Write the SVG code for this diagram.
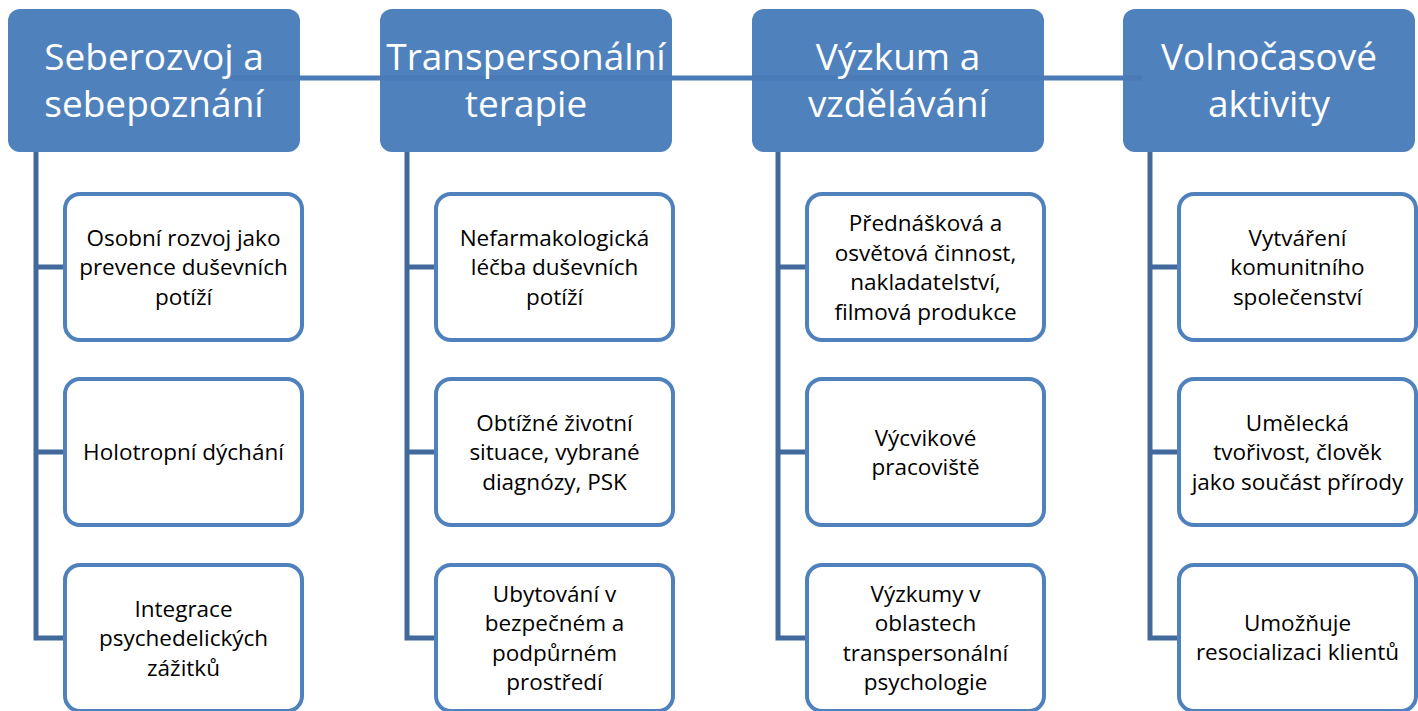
<svg xmlns="http://www.w3.org/2000/svg" width="1418" height="711" viewBox="0 0 1418 711">
<style>
.hdr{fill:#4f81bd;}
.ht{fill:#ffffff;font-family:"Open Sans","Noto Sans","Liberation Sans",sans-serif;font-size:37px;text-anchor:middle;}
.child{fill:#ffffff;stroke:#4f81bd;stroke-width:4;}
.ct{fill:#000000;font-family:"Open Sans","Noto Sans","Liberation Sans",sans-serif;font-size:22.5px;text-anchor:middle;}
.tree{fill:none;stroke:#41699c;stroke-width:5;}
.top{fill:none;stroke:#4a7bb7;stroke-width:5;}
</style>
<rect width="1418" height="711" fill="#ffffff"/>
<g id="headers">
<g id="h1"><rect class="hdr" x="8" y="9" width="292" height="143" rx="12"/></g>
<g id="h2"><rect class="hdr" x="380" y="9" width="292" height="143" rx="12"/></g>
<g id="h3"><rect class="hdr" x="752" y="9" width="292" height="143" rx="12"/></g>
<g id="h4"><rect class="hdr" x="1123" y="9" width="292" height="143" rx="12"/></g>
</g>
<g id="connectors">
<line class="top" x1="231" y1="78" x2="1142" y2="78"/>
<path class="tree" d="M36 152 V638 H65 M36 267 H65 M36 452 H65"/>
<path class="tree" d="M407 152 V638 H436 M407 267 H436 M407 452 H436"/>
<path class="tree" d="M778 152 V638 H807 M778 267 H807 M778 452 H807"/>
<path class="tree" d="M1150 152 V638 H1179 M1150 267 H1179 M1150 452 H1179"/>
</g>
<g id="header-texts">
<text class="ht" x="154"><tspan x="154" y="70">Seberozvoj a</tspan><tspan x="154" y="117">sebepoznání</tspan></text>
<text class="ht" x="526"><tspan x="526" y="70">Transpersonální</tspan><tspan x="526" y="117">terapie</tspan></text>
<text class="ht" x="898"><tspan x="898" y="70">Výzkum a</tspan><tspan x="898" y="117">vzdělávání</tspan></text>
<text class="ht" x="1269"><tspan x="1269" y="70">Volnočasové</tspan><tspan x="1269" y="117">aktivity</tspan></text>
</g>
<g id="c1-1"><rect class="child" x="65" y="194" width="237" height="146" rx="15"/>
<text class="ct"><tspan x="183.5" y="245.5">Osobní rozvoj jako</tspan><tspan x="183.5" y="275">prevence duševních</tspan><tspan x="183.5" y="304.5">potíží</tspan></text></g>
<g id="c1-2"><rect class="child" x="65" y="379" width="237" height="146" rx="15"/>
<text class="ct"><tspan x="183.5" y="460">Holotropní dýchání</tspan></text></g>
<g id="c1-3"><rect class="child" x="65" y="565" width="237" height="146" rx="15"/>
<text class="ct"><tspan x="183.5" y="616.5">Integrace</tspan><tspan x="183.5" y="646">psychedelických</tspan><tspan x="183.5" y="675.5">zážitků</tspan></text></g>
<g id="c2-1"><rect class="child" x="436" y="194" width="237" height="146" rx="15"/>
<text class="ct"><tspan x="554.5" y="245.5">Nefarmakologická</tspan><tspan x="554.5" y="275">léčba duševních</tspan><tspan x="554.5" y="304.5">potíží</tspan></text></g>
<g id="c2-2"><rect class="child" x="436" y="379" width="237" height="146" rx="15"/>
<text class="ct"><tspan x="554.5" y="430.5">Obtížné životní</tspan><tspan x="554.5" y="460">situace, vybrané</tspan><tspan x="554.5" y="489.5">diagnózy, PSK</tspan></text></g>
<g id="c2-3"><rect class="child" x="436" y="565" width="237" height="146" rx="15"/>
<text class="ct"><tspan x="554.5" y="601.5">Ubytování v</tspan><tspan x="554.5" y="631">bezpečném a</tspan><tspan x="554.5" y="660.5">podpůrném</tspan><tspan x="554.5" y="690">prostředí</tspan></text></g>
<g id="c3-1"><rect class="child" x="807" y="194" width="237" height="146" rx="15"/>
<text class="ct"><tspan x="925.5" y="231">Přednášková a</tspan><tspan x="925.5" y="260.5">osvětová činnost,</tspan><tspan x="925.5" y="290">nakladatelství,</tspan><tspan x="925.5" y="319.5">filmová produkce</tspan></text></g>
<g id="c3-2"><rect class="child" x="807" y="379" width="237" height="146" rx="15"/>
<text class="ct"><tspan x="925.5" y="446">Výcvikové</tspan><tspan x="925.5" y="475">pracoviště</tspan></text></g>
<g id="c3-3"><rect class="child" x="807" y="565" width="237" height="146" rx="15"/>
<text class="ct"><tspan x="925.5" y="601.5">Výzkumy v</tspan><tspan x="925.5" y="631">oblastech</tspan><tspan x="925.5" y="660.5">transpersonální</tspan><tspan x="925.5" y="690">psychologie</tspan></text></g>
<g id="c4-1"><rect class="child" x="1179" y="194" width="237" height="146" rx="15"/>
<text class="ct"><tspan x="1297.5" y="245.5">Vytváření</tspan><tspan x="1297.5" y="275">komunitního</tspan><tspan x="1297.5" y="304.5">společenství</tspan></text></g>
<g id="c4-2"><rect class="child" x="1179" y="379" width="237" height="146" rx="15"/>
<text class="ct"><tspan x="1297.5" y="430.5">Umělecká</tspan><tspan x="1297.5" y="460">tvořivost, člověk</tspan><tspan x="1297.5" y="489.5">jako součást přírody</tspan></text></g>
<g id="c4-3"><rect class="child" x="1179" y="565" width="237" height="146" rx="15"/>
<text class="ct"><tspan x="1297.5" y="631">Umožňuje</tspan><tspan x="1297.5" y="660">resocializaci klientů</tspan></text></g>
</svg>
